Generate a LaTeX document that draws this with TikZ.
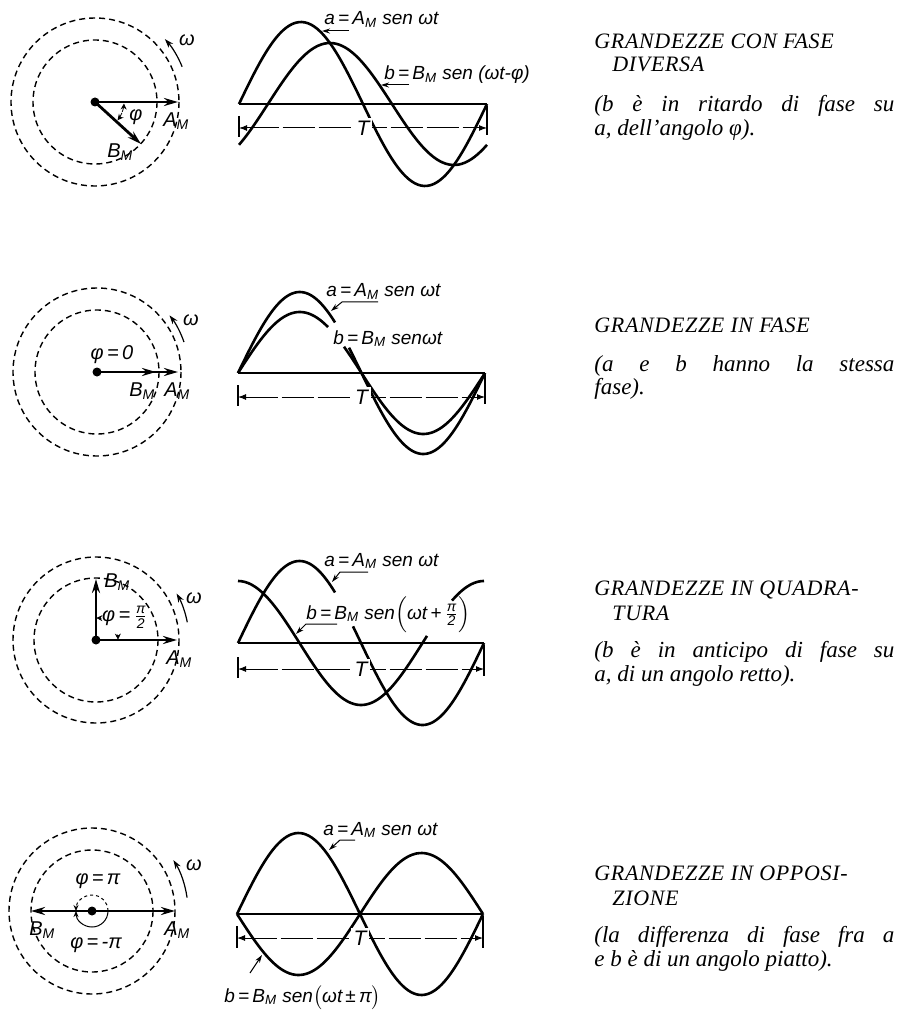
\documentclass[tikz,border=0pt]{standalone}
\usepackage{fontspec}
\setmainfont{Liberation Serif}
\newfontfamily\hand{Liberation Sans}
\newfontfamily\capsf[LetterSpace=3]{Liberation Serif}
\usetikzlibrary{arrows.meta}
\tikzset{
  vec/.style={line width=1.4pt, -{Stealth[length=7pt,width=4pt]}},
  circ/.style={line width=0.7pt, dash pattern=on 3pt off 2pt},
  wave/.style={line width=1.3pt},
  axisl/.style={line width=0.7pt},
  dimline/.style={line width=0.5pt, {Latex[length=4pt,width=3pt]}-{Latex[length=4pt,width=3pt]}, dash pattern=on 16pt off 2pt},
  tickl/.style={line width=0.6pt},
  lbl/.style={anchor=base west, font=\hand\itshape\fontsize{9.5}{11}\selectfont, inner sep=0.5pt},
  plbl/.style={font=\hand\itshape\fontsize{10}{12}\selectfont, inner sep=0.5pt},
  leader/.style={line width=0.5pt, -{Stealth[length=4pt,width=2.5pt]}},
  omega/.style={line width=0.6pt, -{Stealth[length=4.5pt,width=3pt]}},
  angmark/.style={line width=0.4pt, -{Stealth[length=3pt,width=3pt]}},
  head/.style={anchor=base west, font=\capsf\itshape\fontsize{11}{12}\selectfont, inner sep=0pt},
  body/.style={anchor=base west, font=\itshape\fontsize{11.5}{13}\selectfont, inner sep=0pt},
  tlbl/.style={fill=white, inner sep=1.5pt, font=\hand\itshape\fontsize{10.5}{12}\selectfont},
  dot/.style={circle, fill, inner sep=0pt, minimum size=4.5pt},
}
\newcommand{\Am}{A\textsubscript{M}}
\newcommand{\Bm}{B\textsubscript{M}}
\newcommand{\hfr}[2]{\ensuremath{\frac{\mbox{\hand\itshape\scriptsize #1}}{\mbox{\hand\itshape\scriptsize #2}}}}
\begin{document}
\begin{tikzpicture}[x=0.5pt,y=-0.5pt]
\useasboundingbox (0,0) rectangle (897,1010);
\fill[white] (0,0) rectangle (897,1010);

% ================= ROW 1 =================
\coordinate (O1) at (95,102);
\coordinate (A1) at (178,102);
\coordinate (B1) at (141,144);
\draw[circ] (O1) circle[radius=84];
\draw[circ] (O1) circle[radius=62];
\draw[vec] (O1) -- (A1);
\draw[vec] (O1) -- (B1);
\node[dot] (d1) at (O1) {};
\draw[angmark] (O1) ++(20:29) arc[start angle=20,end angle=3,radius=29];
\draw[angmark] (O1) ++(22:29) arc[start angle=22,end angle=39,radius=29];
\node[plbl] (phi1) at (136,117) {φ};
\node[plbl, anchor=base west] (am1) at (162,127) {\Am};
\node[plbl, anchor=base west] (bm1) at (106,158) {\Bm};
\draw[omega] (O1) ++(-22:94) arc[start angle=-22,end angle=-42,radius=94];
\node[plbl] (w1) at (187,40) {ω};

\draw[axisl] (239,104) -- (487,104);
\draw[wave] plot[domain=239:487, smooth, samples=80] (\x, {104-82*sin((\x-239)/248*360)});
\draw[wave] plot[domain=239:487, smooth, samples=80] (\x, {104-61*sin((\x-239)/248*360-42)});
\coordinate (t1l) at (239,128); \coordinate (t1r) at (487,128);
\draw[tickl] (239,116) -- (239,137);
\draw[tickl] (487,106) -- (487,135);
\draw[dimline] (t1l) -- (t1r) node[midway, tlbl] (T1) {T};
\node[lbl] (la1) at (323,25) {a\,=\,\Am{} sen ωt};
\node[lbl] (lb1) at (383,80) {b\,=\,\Bm{} sen (ωt-φ)};
\coordinate (la1s) at (349,31); \coordinate (ca1) at (322,31);
\draw[leader] (la1s) -- (ca1);
\coordinate (lb1s) at (409,85); \coordinate (cb1) at (381,85);
\draw[leader] (lb1s) -- (cb1);

\node[head] (h1a) at (594,49) {GRANDEZZE CON FASE};
\node[head] (h1b) at (612,72) {DIVERSA};
\node[body] (b1a) at (594,112) {\makebox[150pt][s]{(b è in ritardo di fase su}};
\node[body] (b1b) at (594,136) {a, dell’angolo φ).};

% ================= ROW 2 =================
\coordinate (O2) at (97,372);
\coordinate (A2) at (178,372);
\coordinate (B2) at (156,372);
\draw[circ] (O2) circle[radius=84];
\draw[circ] (O2) circle[radius=62];
\draw[vec] (O2) -- (A2);
\draw[vec] (O2) -- (B2);
\node[dot] (d2) at (O2) {};
\node[plbl] (phi2) at (112,355) {φ\,=\,0};
\node[plbl, anchor=base west] (bm2) at (128,396) {\Bm};
\node[plbl, anchor=base west] (am2) at (163,396) {\Am};
\draw[omega] (O2) ++(-19:92) arc[start angle=-19,end angle=-38,radius=92];
\node[plbl] (w2) at (191,320) {ω};

\draw[axisl] (238,373) -- (485,373);
\draw[wave] plot[domain=238:335, smooth, samples=50] (\x, {373-81*sin((\x-238)/247*360)});
\draw[wave] plot[domain=349:485, smooth, samples=70] (\x, {373-81*sin((\x-238)/247*360)});
\draw[wave] plot[domain=238:328, smooth, samples=50] (\x, {373-61*sin((\x-238)/247*360)});
\draw[wave] plot[domain=344:485, smooth, samples=70] (\x, {373-61*sin((\x-238)/247*360)});
\coordinate (t2l) at (238,397); \coordinate (t2r) at (485,397);
\draw[tickl] (238,385) -- (238,406);
\draw[tickl] (485,375) -- (485,404);
\draw[dimline] (t2l) -- (t2r) node[midway, tlbl] (T2) {T};
\node[lbl] (la2) at (325,297) {a\,=\,\Am{} sen ωt};
\node[lbl] (lb2) at (332,344) {b\,=\,\Bm{} senωt};
\coordinate (la2s) at (378,302); \coordinate (la2k) at (342,302); \coordinate (ca2) at (331,311);
\draw[leader] (la2s) -- (la2k) -- (ca2);

\node[head] (h2a) at (594,332) {GRANDEZZE IN FASE};
\node[body] (b2a) at (594,371) {\makebox[150pt][s]{(a e b hanno la stessa}};
\node[body] (b2b) at (594,394) {fase).};

% ================= ROW 3 =================
\coordinate (O3) at (96,640);
\coordinate (A3) at (177,640);
\coordinate (B3) at (96,579);
\draw[circ] (O3) circle[radius=83];
\draw[circ] (O3) circle[radius=62];
\draw[vec] (O3) -- (A3);
\draw[vec] (O3) -- (B3);
\node[dot] (d3) at (O3) {};
\draw[angmark] (O3) ++(-14:22) arc[start angle=-14,end angle=-1,radius=22];
\draw[angmark] (O3) ++(-76:22) arc[start angle=-76,end angle=-89,radius=22];
\node[plbl, anchor=base west] (bm3) at (103,587) {\Bm};
\node[plbl, anchor=base west] (am3) at (165,664) {\Am};
\node[plbl] (phi3) at (125,617) {φ\,=\,\hfr{π}{2}};
\draw[omega] (O3) ++(-11:93) arc[start angle=-11,end angle=-30,radius=93];
\node[plbl] (w3) at (194,598) {ω};

\draw[axisl] (238,643) -- (484,643);
\draw[wave] plot[domain=238:335, smooth, samples=50] (\x, {643-82*sin((\x-238)/246*360)});
\draw[wave] plot[domain=353:484, smooth, samples=70] (\x, {643-82*sin((\x-238)/246*360)});
\draw[wave] plot[domain=238:427, smooth, samples=90] (\x, {643-62*cos((\x-238)/246*360)});
\draw[wave] plot[domain=452:484, smooth, samples=20] (\x, {643-62*cos((\x-238)/246*360)});
\coordinate (t3l) at (238,669); \coordinate (t3r) at (484,669);
\draw[tickl] (238,657) -- (238,678);
\draw[tickl] (484,645) -- (484,676);
\draw[dimline] (t3l) -- (t3r) node[midway, tlbl] (T3) {T};
\node[lbl] (la3) at (323,566) {a\,=\,\Am{} sen ωt};
\node[lbl] (lb3) at (305,619) {b\,=\,\Bm{} sen$\Bigl(\mbox{ωt\,+\,}$\hfr{π}{2}$\Bigr)$};
\coordinate (la3s) at (368,572); \coordinate (la3k) at (340,572); \coordinate (ca3) at (332,582);
\draw[leader] (la3s) -- (la3k) -- (ca3);
\coordinate (lb3s) at (337,624); \coordinate (lb3k) at (306,624); \coordinate (cb3) at (296,634);
\draw[leader] (lb3s) -- (lb3k) -- (cb3);

\node[head] (h3a) at (594,595) {GRANDEZZE IN QUADRA-};
\node[head] (h3b) at (612,620) {TURA};
\node[body] (b3a) at (594,657) {\makebox[150pt][s]{(b è in anticipo di fase su}};
\node[body] (b3b) at (594,681) {a, di un angolo retto).};

% ================= ROW 4 =================
\coordinate (O4) at (92,911);
\coordinate (A4) at (175,911);
\coordinate (B4) at (31,911);
\draw[circ] (O4) circle[radius=83];
\draw[circ] (O4) circle[radius=61];
\draw[vec] (O4) -- (A4);
\draw[vec] (O4) -- (B4);
\node[dot] (d4) at (O4) {};
\draw[line width=0.5pt, dash pattern=on 1.5pt off 1.5pt, -{Stealth[length=3pt,width=2.5pt]}] (O4) ++(0:16) arc[start angle=0,end angle=-180,radius=16];
\draw[line width=0.5pt, -{Stealth[length=3pt,width=2.5pt]}] (O4) ++(0:16) arc[start angle=0,end angle=180,radius=16];
\node[plbl] (phi4a) at (98,881) {φ\,=\,π};
\node[plbl] (phi4b) at (96,945) {φ\,=\,-π};
\node[plbl, anchor=base west] (bm4) at (28,935) {\Bm};
\node[plbl, anchor=base west] (am4) at (163,935) {\Am};
\draw[omega] (O4) ++(-8:96) arc[start angle=-8,end angle=-32,radius=96];
\node[plbl] (w4) at (194,865) {ω};

\draw[axisl] (237,914) -- (483,914);
\draw[wave] plot[domain=237:483, smooth, samples=90] (\x, {914-81*sin((\x-237)/246*360)});
\draw[wave] plot[domain=237:483, smooth, samples=90] (\x, {914+61*sin((\x-237)/246*360)});
\coordinate (t4l) at (237,938); \coordinate (t4r) at (483,938);
\draw[tickl] (237,926) -- (237,948);
\draw[tickl] (483,916) -- (483,948);
\draw[dimline] (t4l) -- (t4r) node[midway, tlbl] (T4) {T};
\node[lbl] (la4) at (322,835) {a\,=\,\Am{} sen ωt};
\node[lbl] (lb4) at (223,1002) {b\,=\,\Bm{} sen$\bigl(\mbox{ωt\,±\,π}\bigr)$};
\coordinate (la4s) at (355,840); \coordinate (la4k) at (340,840); \coordinate (ca4) at (329,850);
\draw[leader] (la4s) -- (la4k) -- (ca4);
\coordinate (lb4s) at (250,973); \coordinate (cb4) at (262,955);
\draw[leader] (lb4s) -- (cb4);

\node[head] (h4a) at (594,880) {GRANDEZZE IN OPPOSI-};
\node[head] (h4b) at (612,905) {ZIONE};
\node[body] (b4a) at (594,942) {\makebox[150pt][s]{(la differenza di fase fra a}};
\node[body] (b4b) at (594,966) {e b è di un angolo piatto).};
\end{tikzpicture}
\end{document}
